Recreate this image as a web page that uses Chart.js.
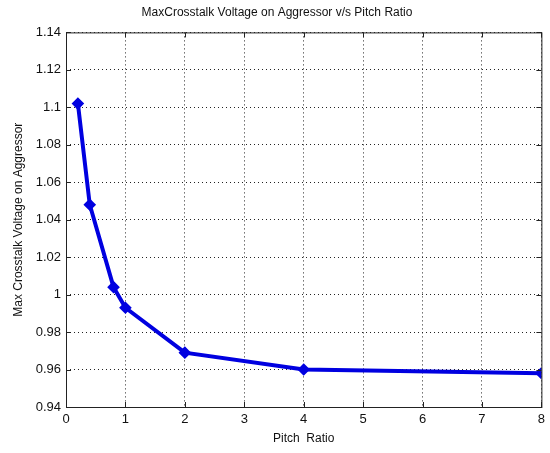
<!DOCTYPE html>
<html>
<head>
<meta charset="utf-8">
<script src="https://cdn.jsdelivr.net/npm/chart.js@4.4.0/dist/chart.umd.min.js"></script>
<style>
  html, body { margin: 0; padding: 0; background: #fff; }
  #wrap { width: 550px; height: 453px; }
</style>
</head>
<body>
<div id="wrap"><canvas id="chart" width="550" height="453"></canvas></div>
<script>
// data
const pitchRatio = [0.2, 0.4, 0.8, 1, 2, 4, 8];
const maxVoltage = [1.102, 1.048, 1.004, 0.993, 0.969, 0.960, 0.958];
const xTicks = [0, 1, 2, 3, 4, 5, 6, 7, 8];
const yTicks = [0.94, 0.96, 0.98, 1, 1.02, 1.04, 1.06, 1.08, 1.1, 1.12, 1.14];

const font = "'Liberation Sans', Arial, sans-serif";

// box around the plot + inward ticks, matlab style
const boxPlugin = {
  id: "box",
  afterDraw(chart) {
    const { ctx, chartArea: a, scales } = chart;
    ctx.save();
    ctx.strokeStyle = "#222";
    ctx.lineWidth = 1;
    ctx.setLineDash([]);
    ctx.strokeRect(a.left + 0.5, a.top + 0.5, a.right - a.left, a.bottom - a.top);
    ctx.beginPath();
    xTicks.forEach((t) => {
      const x = Math.round(scales.x.getPixelForValue(t)) + 0.5;
      ctx.moveTo(x, a.bottom); ctx.lineTo(x, a.bottom - 5);
      ctx.moveTo(x, a.top); ctx.lineTo(x, a.top + 5);
    });
    yTicks.forEach((t) => {
      const y = Math.round(scales.y.getPixelForValue(t)) + 0.5;
      ctx.moveTo(a.left, y); ctx.lineTo(a.left + 5, y);
      ctx.moveTo(a.right, y); ctx.lineTo(a.right - 5, y);
    });
    ctx.stroke();
    ctx.restore();
  },
};

new Chart(document.getElementById("chart"), {
  type: "line",
  data: {
    datasets: [
      {
        data: pitchRatio.map((x, i) => ({ x, y: maxVoltage[i] })),
        borderColor: "#0000e0",
        backgroundColor: "#0000e0",
        borderWidth: 4,
        pointStyle: "rectRot",
        pointRadius: 3.5,
        tension: 0,
        fill: false,
      },
    ],
  },
  plugins: [boxPlugin],
  options: {
    responsive: false,
    animation: false,
    layout: { padding: { left: 11, right: 7, top: 0, bottom: 4 } },
    plugins: {
      legend: { display: false },
      tooltip: { enabled: false },
      title: {
        display: true,
        text: "MaxCrosstalk Voltage on Aggressor v/s Pitch Ratio",
        color: "#111",
        font: { family: font, size: 12, weight: "normal" },
        padding: { top: 5, bottom: 13 },
      },
    },
    scales: {
      x: {
        type: "linear",
        min: 0,
        max: 8,
        afterBuildTicks: (s) => { s.ticks = xTicks.map((v) => ({ value: v })); },
        afterFit: (s) => { s.height = 42; },
        ticks: { color: "#111", font: { family: font, size: 13 }, padding: 5 },
        grid: { color: "#222", tickLength: 0, drawTicks: false },
        border: { display: false, dash: [1, 3] },
        title: {
          display: true,
          text: "Pitch  Ratio",
          color: "#111",
          font: { family: font, size: 12 },
          padding: { top: 0, bottom: 3 },
        },
      },
      y: {
        type: "linear",
        min: 0.94,
        max: 1.14,
        afterBuildTicks: (s) => { s.ticks = yTicks.map((v) => ({ value: v })); },
        afterFit: (s) => { s.width = 55; },
        ticks: {
          color: "#111",
          font: { family: font, size: 13 },
          padding: 5,
          callback: (v) => String(+v.toFixed(2)),
        },
        grid: { color: "#222", tickLength: 0, drawTicks: false },
        border: { display: false, dash: [1, 3] },
        title: {
          display: true,
          text: "Max Crosstalk Voltage on Aggressor",
          color: "#111",
          font: { family: font, size: 12 },
          padding: { top: 0, bottom: 4 },
        },
      },
    },
  },
});
</script>
</body>
</html>
